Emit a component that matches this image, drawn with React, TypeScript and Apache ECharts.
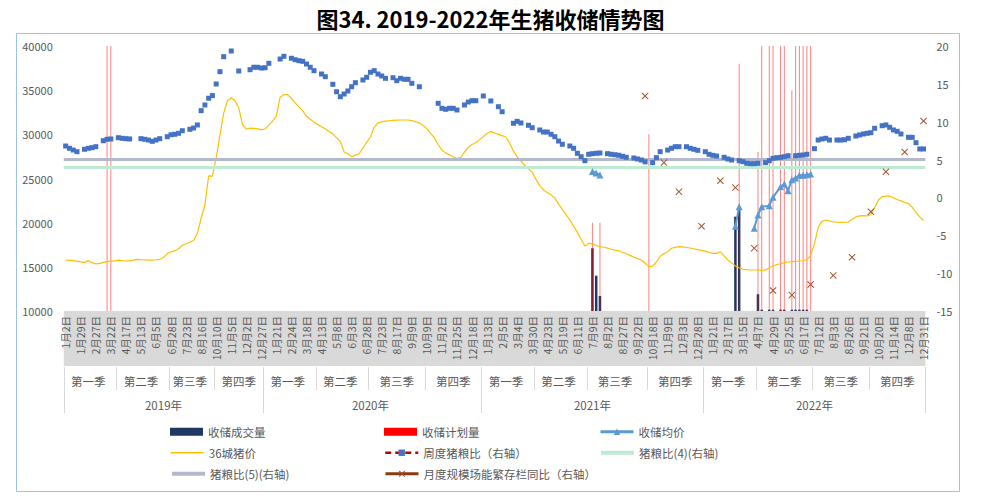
import React, { useEffect, useRef } from 'react';
import * as echarts from 'echarts';

const FONT = '"Noto Sans CJK SC", "Noto Sans", sans-serif';

// x-axis tick labels (every 4th category)
const labelDates = [
  '1月2日','1月29日','2月27日','3月22日','4月17日','5月13日','6月5日','6月28日','7月23日','8月16日','10月10日','11月5日','12月2日','12月27日',
  '1月21日','2月24日','3月18日','4月13日','5月8日','6月3日','6月28日','7月23日','8月17日','9月9日','10月9日','11月2日','11月25日','12月18日',
  '1月13日','2月5日','3月4日','3月30日','4月23日','5月19日','6月11日','7月9日','8月2日','8月27日','9月22日','10月18日','11月9日','12月3日','12月28日',
  '1月21日','2月17日','3月15日','4月7日','4月29日','5月25日','6月17日','7月12日','8月3日','8月26日','9月21日','10月20日','11月14日','12月8日','12月31日',
];
const quarterNames = ['第一季', '第二季', '第三季', '第四季'];
const quarterStarts = [0, 14, 28, 40, 53, 67, 81, 96, 111, 125, 139, 155, 170, 184, 199, 214];
const yearNames = ['2019年', '2020年', '2021年', '2022年'];
const yearStarts = [0, 53, 111, 170];

// 36城猪价 (left axis)
const pigPrice36 = [
  15770,15740,15700,15620,15560,15480,15700,15470,15330,15400,
  15500,15580,15640,15680,15760,15720,15660,15700,15760,15850,
  15800,15780,15760,15770,15800,15850,16050,16500,16700,16830,
  17050,17450,17620,17780,18000,18800,20500,22000,25300,25280,
  27300,29900,32400,33800,34150,33800,33000,31100,30600,30700,
  30680,30650,30500,30600,31050,31500,32100,34200,34500,34500,
  34080,33550,33100,32650,32050,31700,31380,31100,30850,30620,
  30300,30050,29630,29170,28000,27800,27470,27650,27800,28450,
  29100,29700,30800,31300,31430,31500,31540,31580,31600,31620,
  31620,31620,31550,31420,31270,31000,30650,30100,29600,28850,
  28200,27900,27680,27450,27260,27400,28000,28530,28850,29050,
  29400,29740,30100,30330,30150,30000,29850,29700,29000,28100,
  27450,26980,26500,26100,25700,24900,24200,23700,23400,23150,
  22800,22100,21500,20900,20300,19600,18900,18100,17360,17650,
  17600,17420,17280,17220,17120,16990,16900,16820,16650,16480,
  16300,16100,15930,15780,15400,15020,15090,15550,16200,16480,
  16700,17100,17200,17280,17250,17190,17130,17030,16950,16860,
  16780,16620,16530,16530,16700,16250,15780,15450,15100,14900,
  14720,14680,14640,14640,14640,14580,14650,14900,15090,15250,
  15350,15480,15550,15580,15620,15660,15690,15800,16300,17600,
  19500,20150,20300,20200,20100,20060,20040,20050,20070,20350,
  20650,20760,20790,20770,20900,21700,22560,22950,23010,23010,
  22820,22620,22470,22300,22170,21750,21150,20650,20250,
];

// 周度猪粮比 (right axis) [category index, value]
const weeklyRatio: [number, number][] = [
  [0,6.79],[1,6.49],[2,6.26],[3,6.04],[5,6.36],[6,6.49],[7,6.57],[8,6.7],[10,7.49],[11,7.68],[12,7.72],[14,7.89],[15,7.81],[16,7.76],[17,7.72],
  [20,7.76],[21,7.68],[22,7.58],[23,7.41],[24,7.58],[25,7.76],[27,8.02],[28,8.28],[29,8.34],[30,8.47],[31,8.81],[33,9.0],[34,9.17],[35,9.57],
  [36,11.46],[37,12.21],[38,13.1],[39,13.45],[40,14.98],[41,16.61],[42,18.59],[44,19.34],[46,16.7],[49,16.87],[50,17.19],[51,17.19],[52,17.09],
  [53,17.13],[54,17.71],[57,18.28],[58,18.64],[60,18.38],[61,18.19],[62,18.06],[63,17.98],[64,17.62],[65,17.19],[66,16.74],[68,16.3],[69,15.95],
  [71,14.94],[72,13.96],[73,13.3],[74,13.66],[75,14.06],[76,14.62],[77,15.15],[79,15.51],[80,15.87],[81,16.53],[82,16.74],[83,16.3],[84,16.04],
  [85,15.73],[87,15.81],[88,15.42],[89,15.73],[90,15.6],[91,15.6],[92,15.07],[94,14.62],[99,12.43],[100,11.77],[101,11.64],[102,11.77],[103,11.77],
  [104,11.55],[106,12.21],[107,12.6],[108,12.78],[109,12.78],[111,13.4],[113,12.74],[115,11.98],[116,11.32],[119,9.79],[120,10.05],[121,9.83],
  [123,9.53],[124,9.21],[126,8.91],[127,8.64],[128,8.64],[129,8.34],[130,8.02],[131,7.45],[132,7.02],[134,6.79],[135,6.49],[136,5.83],[137,5.38],
  [138,4.85],[139,5.7],[140,5.78],[141,5.83],[142,5.87],[144,5.78],[145,5.7],[146,5.64],[147,5.57],[148,5.43],[149,5.3],[151,5.21],[152,5.08],
  [153,4.94],[154,4.7],[156,4.59],[157,5.25],[158,6.04],[160,6.26],[161,6.49],[162,6.7],[163,6.7],[165,6.7],[166,6.49],[167,6.36],[168,6.22],
  [170,6.04],[171,5.7],[172,5.56],[173,5.47],[175,5.3],[176,5.08],[177,4.94],[179,4.85],[180,4.72],[181,4.51],[182,4.46],[183,4.46],[184,4.51],
  [186,4.59],[187,4.85],[188,5.17],[189,5.25],[190,5.3],[191,5.38],[192,5.51],[194,5.51],[195,5.56],[196,5.6],[197,5.7],[199,6.44],[200,7.58],
  [201,7.72],[202,7.81],[203,7.58],[205,7.58],[206,7.58],[207,7.62],[208,7.81],[210,8.11],[211,8.25],[212,8.38],[213,8.47],[214,8.55],[215,9.13],
  [217,9.47],[218,9.57],[219,9.26],[220,8.91],[221,8.73],[222,8.38],[224,7.94],[225,7.94],[226,7.23],[227,6.4],[228,6.4],
];

// 收储成交量 (left axis)
const reserveVolume: [number, number][] = [
  [140,17100],[141,14000],[142,11700],[178,20680],[179,21430],[184,11900],
  [185,10150],[187,10150],[188,10150],[190,10150],[191,10150],[193,10150],[194,10150],[195,10150],[196,10150],[197,10150],
];
// 收储计划量 (left axis)
const reservePlan: [number, number][] = [
  [11,40000],[12,40000],[140,20000],[142,20000],[155,30000],[179,38000],[184,28000],[185,40000],[187,40000],
  [188,40000],[190,40000],[191,40000],[193,35000],[194,40000],[195,40000],[196,40000],[197,40000],[198,40000],
];
// 收储均价 (left axis); null breaks the line
const reservePrice: [number, number | null][] = [
  [140,25800],[141,25620],[142,25400],[160,null],[178,19600],[179,21800],[181,null],[183,19360],[184,20870],[185,21800],
  [187,21920],[188,22870],[190,24080],[191,24380],[192,23620],[193,24870],[194,25060],[195,25360],[196,25360],[197,25430],[198,25510],
];
// 月度规模场能繁存栏同比 (right axis)
const sowYoY: [number, number][] = [
  [154,13.4],[159,4.6],[163,0.76],[169,-3.8],[174,2.2],[178,1.3],[183,-6.7],[188,-12.3],[193,-12.9],[198,-11.5],
  [204,-10.3],[209,-7.9],[214,-1.9],[218,3.4],[223,6.0],[228,10.1],
];
const RATIO_4 = 4;
const RATIO_5 = 5;

const N = (labelDates.length - 1) * 4 + 1;
// unique category keys: "index|date label"
const categories = Array.from({ length: N }, (_, i) => `${i}|${labelDates[Math.floor(i / 4)]}`);
const toDense = (pairs: [number, number][]) => {
  const a: (number | null)[] = new Array(N).fill(null);
  pairs.forEach(([i, v]) => { a[i] = v; });
  return a;
};

const GRID_LEFT = 63.8;
const GRID_TOP = 46;
const BAND = 3.7625;
const GRID_WIDTH = N * BAND;
const GRID_HEIGHT = 265;

const TXT = '#595959';
const SEP = '#D9D9D9';
const NAVY = '#203864';
const LBLUE = '#5B9BD5';
const SQBLUE = '#4472C4';
const YELLOW = '#FFC000';
const GREEN = '#BFEBD2';
const GRAY = '#B3B8CC';
const BROWN = '#A0522D';
const X_PATH = 'path://M1,0 L5,4 L9,0 L10,1 L6,5 L10,9 L9,10 L5,6 L1,10 L0,9 L4,5 L0,1 Z';

function groupAxis(starts: number[], names: string[], tickLen: number, margin: number) {
  const startSet = new Set(starts);
  const centerName = new Map<string, string>();
  starts.forEach((s, k) => {
    const e = (starts[k + 1] ?? N) - 1;
    const c = Math.floor((s + e) / 2);
    centerName.set(categories[c], names[k % names.length]);
  });
  return {
    type: 'category',
    data: categories,
    gridIndex: 0,
    position: 'bottom',
    offset: 56,
    axisLine: { show: false },
    axisTick: { show: true, interval: (i: number) => startSet.has(i), length: tickLen, lineStyle: { color: SEP, width: 1 } },
    axisLabel: {
      interval: (i: number) => centerName.has(categories[i]),
      formatter: (v: string) => centerName.get(v) ?? '',
      margin,
      fontSize: 11.5,
      color: TXT,
      fontFamily: FONT,
    },
    splitLine: { show: false },
  };
}

const legendCols = [170, 384, 599];
const legendRows = [432, 453, 474];
function mkLegend(col: number, row: number, item: any) {
  return {
    left: legendCols[col],
    top: legendRows[row] - 6,
    orient: 'horizontal',
    padding: 0,
    itemWidth: 33,
    itemHeight: 8,
    selectedMode: false,
    textStyle: { fontSize: 11.5, color: TXT, fontFamily: FONT },
    data: [item],
  };
}

export default function App() {
  const ref = useRef<HTMLDivElement>(null);
  useEffect(() => {
    if (!ref.current) return;
    const chart = echarts.init(ref.current, undefined, { renderer: 'svg' });
    const option: any = {
      animation: false,
      backgroundColor: '#ffffff',
      textStyle: { fontFamily: FONT },
      title: {
        text: '图34. 2019-2022年生猪收储情势图',
        left: 'center',
        top: 2,
        textStyle: { fontSize: 22, fontWeight: 'bold', color: '#000', fontFamily: FONT },
      },
      grid: {
        left: GRID_LEFT, top: GRID_TOP, width: GRID_WIDTH, height: GRID_HEIGHT,
        containLabel: false, outerBoundsMode: 'none',
      },
      graphic: [
        { type: 'rect', silent: true, z: -10, shape: { x: 16.5, y: 33.5, width: 943, height: 458 }, style: { fill: 'none', stroke: '#9DC3E6', lineWidth: 1 } },
        { type: 'rect', silent: true, z: -10, shape: { x: GRID_LEFT, y: GRID_TOP + GRID_HEIGHT, width: GRID_WIDTH, height: 55 }, style: { fill: SEP } },
      ],
      legend: [
        mkLegend(0, 0, { name: '收储成交量', icon: 'rect', itemStyle: { color: NAVY, opacity: 1 } }),
        mkLegend(1, 0, { name: '收储计划量', icon: 'rect', itemStyle: { color: '#FF0000', opacity: 1 } }),
        mkLegend(2, 0, { name: '收储均价', itemStyle: { color: LBLUE, opacity: 1 }, lineStyle: { color: LBLUE, width: 3, opacity: 1 } }),
        mkLegend(0, 1, { name: '36城猪价', itemStyle: { opacity: 0 }, lineStyle: { color: YELLOW, width: 1.5, opacity: 1 } }),
        mkLegend(1, 1, { name: '周度猪粮比（右轴）', itemStyle: { color: SQBLUE, opacity: 1 }, lineStyle: { color: '#C00000', width: 2.5, type: [6, 4], opacity: 1 } }),
        mkLegend(2, 1, { name: '猪粮比(4)(右轴)', itemStyle: { opacity: 0 }, lineStyle: { color: GREEN, width: 4, opacity: 1 } }),
        mkLegend(0, 2, { name: '猪粮比(5)(右轴)', itemStyle: { opacity: 0 }, lineStyle: { color: GRAY, width: 4, opacity: 1 } }),
        mkLegend(1, 2, { name: '月度规模场能繁存栏同比（右轴）', itemStyle: { color: BROWN, opacity: 1 }, lineStyle: { color: '#8B3A0F', width: 3, opacity: 1 } }),
      ],
      xAxis: [
        {
          type: 'category', data: categories, gridIndex: 0, position: 'bottom', boundaryGap: true,
          axisLine: { show: false }, axisTick: { show: false }, splitLine: { show: false },
          axisLabel: {
            interval: 3, rotate: 90, margin: 5, fontSize: 10.5, color: TXT, fontFamily: FONT,
            formatter: (v: string) => v.split('|')[1],
          },
        },
        groupAxis(quarterStarts, quarterNames, 23, 8),
        groupAxis(yearStarts, yearNames, 46, 32),
      ],
      yAxis: [
        {
          type: 'value', min: 10000, max: 40000, interval: 5000,
          axisLine: { show: false }, axisTick: { show: false }, splitLine: { show: false },
          axisLabel: { margin: 11, fontSize: 11, color: TXT, fontFamily: FONT, formatter: (v: number) => String(v) },
        },
        {
          type: 'value', position: 'right', min: -15, max: 20, interval: 5,
          axisLine: { show: false }, axisTick: { show: false }, splitLine: { show: false },
          axisLabel: { margin: 11, fontSize: 11, color: TXT, fontFamily: FONT, formatter: (v: number) => String(v) },
        },
      ],
      series: [
        {
          name: '猪粮比(4)(右轴)', type: 'line', yAxisIndex: 1, data: [], z: 1,
          lineStyle: { color: GREEN, width: 3 }, itemStyle: { color: GREEN },
          markLine: { silent: true, symbol: ['none', 'none'], label: { show: false }, lineStyle: { color: GREEN, width: 3, type: 'solid' }, data: [{ yAxis: RATIO_4 }] },
        },
        {
          name: '猪粮比(5)(右轴)', type: 'line', yAxisIndex: 1, data: [], z: 1,
          lineStyle: { color: GRAY, width: 3 }, itemStyle: { color: GRAY },
          markLine: { silent: true, symbol: ['none', 'none'], label: { show: false }, lineStyle: { color: GRAY, width: 3, type: 'solid' }, data: [{ yAxis: RATIO_5 }] },
        },
        {
          name: '收储成交量', type: 'bar', xAxisIndex: 0, yAxisIndex: 0, data: toDense(reserveVolume),
          barWidth: 2.5, itemStyle: { color: NAVY }, z: 2,
        },
        {
          name: '收储计划量', type: 'bar', xAxisIndex: 1, yAxisIndex: 0, data: toDense(reservePlan),
          barWidth: 1, itemStyle: { color: 'rgba(255,0,0,0.5)' }, z: 3,
        },
        {
          name: '36城猪价', type: 'line', yAxisIndex: 0, data: pigPrice36, symbol: 'none',
          lineStyle: { color: YELLOW, width: 1.2 }, itemStyle: { color: YELLOW }, z: 3,
        },
        {
          name: '周度猪粮比（右轴）', type: 'line', yAxisIndex: 1, data: toDense(weeklyRatio),
          symbol: 'rect', symbolSize: 5, showSymbol: true, showAllSymbol: true,
          lineStyle: { width: 0, opacity: 0 }, itemStyle: { color: SQBLUE }, z: 5,
        },
        {
          name: '收储均价', type: 'line', yAxisIndex: 0, data: reservePrice,
          symbol: 'triangle', symbolSize: 7, showSymbol: true, showAllSymbol: true,
          lineStyle: { color: LBLUE, width: 2 }, itemStyle: { color: LBLUE }, z: 6,
        },
        {
          name: '月度规模场能繁存栏同比（右轴）', type: 'line', yAxisIndex: 1, data: sowYoY,
          symbol: X_PATH, symbolSize: 7, showSymbol: true, showAllSymbol: true,
          lineStyle: { width: 0, opacity: 0 }, itemStyle: { color: BROWN }, z: 6,
        },
      ],
    };
    chart.setOption(option);
    return () => chart.dispose();
  }, []);
  return <div ref={ref} style={{ position: 'fixed', left: 0, top: 0, width: 981, height: 500 }} />;
}
